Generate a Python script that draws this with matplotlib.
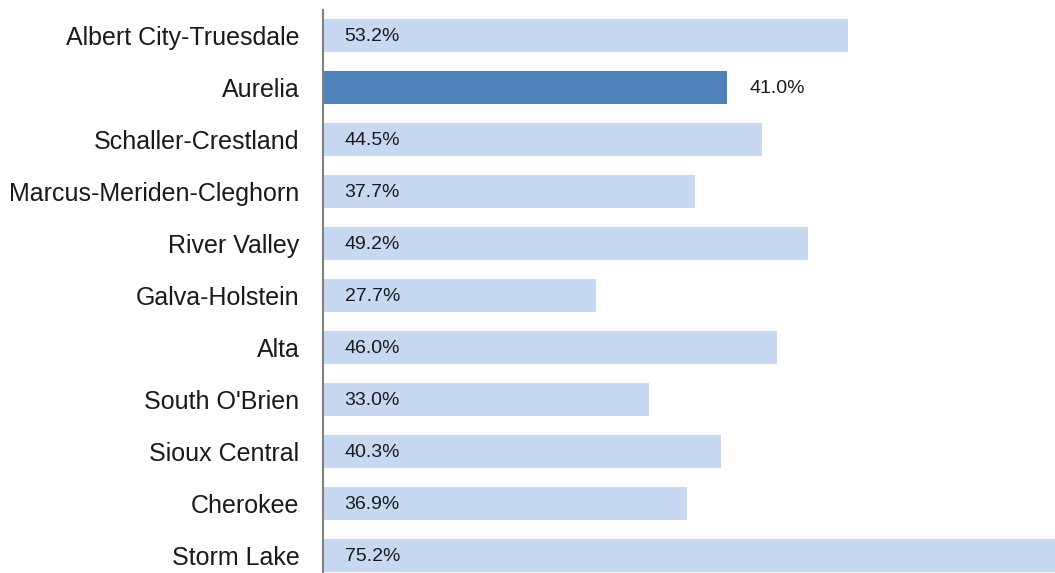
import matplotlib.pyplot as plt

# data
names = ["Albert City-Truesdale", "Aurelia", "Schaller-Crestland",
         "Marcus-Meriden-Cleghorn", "River Valley", "Galva-Holstein", "Alta",
         "South O'Brien", "Sioux Central", "Cherokee", "Storm Lake"]
values = [53.2, 41.0, 44.5, 37.7, 49.2, 27.7, 46.0, 33.0, 40.3, 36.9, 75.2]
highlight = "Aurelia"

plt.rcParams['font.family'] = ['Liberation Sans', 'DejaVu Sans']

fig = plt.figure(figsize=(10.55, 5.73), dpi=100)
ax = fig.add_axes([323 / 1055, 0, 1 - 323 / 1055, 563 / 573])

colors = ["#4F81BD" if n == highlight else "#C6D9F1" for n in names]
pos = list(range(len(names)))
ax.barh(pos, values, height=0.63, color=colors)

for i, (n, v) in enumerate(zip(names, values)):
    x = v + 2.2 if n == highlight else 2.2
    ax.text(x, i + 0.02, "%.1f%%" % v, va="center", ha="left", fontsize=14, color="#1a1a1a")

ax.set_yticks(pos)
ax.set_yticklabels(names, fontsize=18, color="#1a1a1a")
ax.tick_params(axis="y", length=0, pad=17)
ax.set_xticks([])
ax.set_xlim(0, 74.2)
ax.set_ylim(10.34, -0.49)

for s in ["top", "right", "bottom"]:
    ax.spines[s].set_visible(False)
ax.spines["left"].set_color("#808080")
ax.spines["left"].set_linewidth(1.5)
ax.set_zorder(1)

fig.savefig("out.png", dpi=100)
